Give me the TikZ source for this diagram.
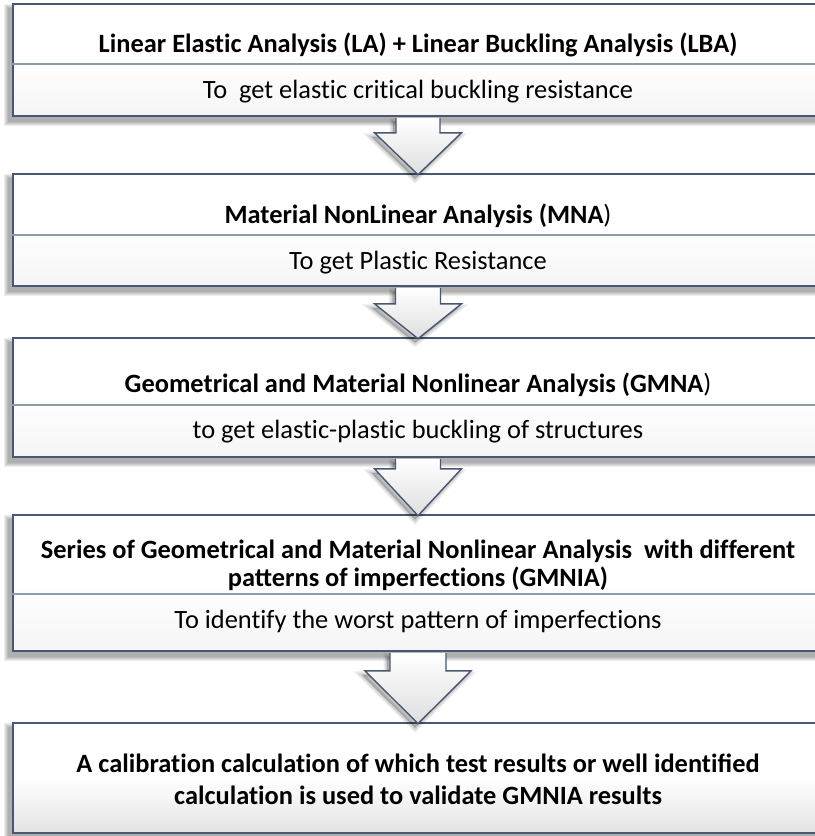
\documentclass[tikz,border=0pt]{standalone}
\usepackage{fontspec}
\setmainfont{Carlito}
\usetikzlibrary{calc}
\newcommand\TI{t\kern0pt i}
\newcommand\FF{f\kern0pt f}
\definecolor{bord}{RGB}{72,88,114}
\definecolor{divc}{RGB}{140,154,174}
\definecolor{arrowfill}{RGB}{222,222,224}
\tikzset{
  box/.style={draw=bord, line width=1.6bp, rectangle, inner sep=0pt,
    top color=white, bottom color=black!4, middle color=white},
  lastbox/.style={box, top color=white, bottom color=black!11, middle color=white},
  divline/.style={draw=divc, line width=1.3bp},
  txt/.style={font=\fontsize{26.5}{32}\selectfont, inner sep=0pt, anchor=base, text=black},
  ttl/.style={txt, font=\fontsize{26.5}{32}\selectfont\bfseries},
  shade layer/.style={fill=black, opacity=0.07},
}
\newcommand\flowbox[6][box]{%
  \foreach \k in {1,...,5}{%
    \fill[shade layer] ({#3-4-\k},{#4+5-\k}) rectangle ({#5-4+\k},{#6+5+\k});}
  \node[#1, minimum width={(#5-#3)*1bp}, minimum height={(#6-#4)*1bp}]
    (#2) at ({(#3+#5)/2},{(#4+#6)/2}) {};
}
\newcommand\arrowpath[5]{%
  ($(#1.south)+(-#4,1)$) -- ($(#1.south)+(-#4,#3)$) -- ($(#1.south)+(-#5,#3)$)
  -- ($(#2.north)+(0,1.5)$) -- ($(#1.south)+(#5,#3)$) -- ($(#1.south)+(#4,#3)$)
  -- ($(#1.south)+(#4,1)$)}
\newcommand\flowarrow[5]{%
  \foreach \w in {7,4.5,2}{%
    \fill[black, opacity=0.07, line width=\w bp, draw=black, draw opacity=0.07,
      transform canvas={shift={(-3bp,-4bp)}}] \arrowpath{#1}{#2}{#3}{#4}{#5} -- cycle;}
  \path[top color=white, bottom color=arrowfill] \arrowpath{#1}{#2}{#3}{#4}{#5} -- cycle;
  \draw[draw=bord, line width=1.4bp, line join=miter] \arrowpath{#1}{#2}{#3}{#4}{#5};
}
\begin{document}
\begin{tikzpicture}[x=1bp, y=-1bp]
\useasboundingbox (0,0) rectangle (815,836);
\clip (0,0) rectangle (815,836);
\fill[white] (0,0) rectangle (815,836);

% boxes
\flowbox{b1}{13}{4}{823}{116}
\draw[divline] (b1.west |- 0,64) -- (b1.east |- 0,64);
\node[ttl] (t1) at (418,52) {Linear Elas\TI c Analysis (LA) + Linear Buckling Analysis (LBA)};
\node[txt] (s1) at (418,98) {To\ \ get elas\TI c cri\TI cal buckling resistance};

\flowbox{b2}{13}{174}{823}{286}
\draw[divline] (b2.west |- 0,235) -- (b2.east |- 0,235);
\node[ttl] (t2) at (418,223) {Material NonLinear Analysis (MNA\textmd{)}};
\node[txt] (s2) at (418,269) {To get Plas\TI c Resistance};

\flowbox{b3}{13}{338}{823}{457}
\draw[divline] (b3.west |- 0,405) -- (b3.east |- 0,405);
\node[ttl] (t3) at (418,392) {Geometrical and Material Nonlinear Analysis (GMNA\textmd{)}};
\node[txt] (s3) at (418,438) {to get elas\TI c-plas\TI c buckling of structures};

\flowbox{b4}{13}{515}{823}{651}
\draw[divline] (b4.west |- 0,594) -- (b4.east |- 0,594);
\node[ttl] (t4a) at (418,558) {Series of Geometrical and Material Nonlinear Analysis\ \ with di\FF erent};
\node[ttl] (t4b) at (418,586) {patterns of imperfec\TI ons (GMNIA)};
\node[txt] (s4) at (418,628) {To iden\TI fy the worst pattern of imperfec\TI ons};

\flowbox[lastbox]{b5}{13}{723}{823}{833}
\node[ttl] (t5a) at (418,772) {A calibra\TI on calcula\TI on of which test results or well iden\TI fied};
\node[ttl] (t5b) at (418,804) {calcula\TI on is used to validate GMNIA results};

% arrows
\flowarrow{b1}{b2}{16}{22}{43.5}
\flowarrow{b2}{b3}{17}{22.5}{43.5}
\flowarrow{b3}{b4}{11}{22.5}{43.5}
\flowarrow{b4}{b5}{19}{28}{53}
\end{tikzpicture}
\end{document}
